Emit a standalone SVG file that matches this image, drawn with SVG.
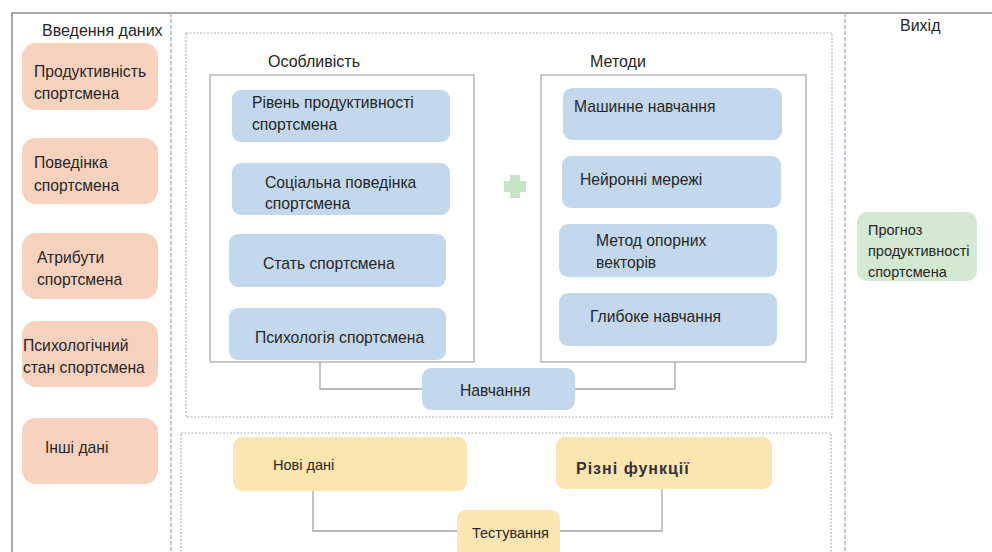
<svg xmlns="http://www.w3.org/2000/svg" width="992" height="552" viewBox="0 0 992 552">
  <defs>
    <style>
      text { font-family: "Liberation Sans", "Noto Sans", Arial, sans-serif; font-size: 15.7px; fill: #262626; }
      .head { font-size: 16px; }
      .small { font-size: 14.5px; }
      .wide { font-size: 16px; font-weight: bold; letter-spacing: 1px; fill: #333333; }
      .frame { fill: none; stroke: #8c8c8c; stroke-width: 1.5; }
      .divider { fill: none; stroke: #9fb0c4; stroke-width: 1.3; stroke-dasharray: 4 2; }
      .dashbox { fill: none; stroke: #a9b4c2; stroke-width: 1.2; stroke-dasharray: 2 1.5; }
      .panel { fill: #ffffff; stroke: #a6a6a6; stroke-width: 1.2; }
      .input { fill: #f7d3bf; }
      .feat { fill: #c3d8ec; }
      .test { fill: #fbe5b0; }
      .out { fill: #d3e9d1; }
      .link { fill: none; stroke: #a6a6a6; stroke-width: 1.3; }
    </style>
  </defs>

  <rect width="992" height="552" fill="#ffffff"/>

  <!-- outer frame and column dividers -->
  <g id="frame">
    <path class="frame" d="M12,552 V13 H992"/>
    <line class="divider" x1="171" y1="13" x2="171" y2="552"/>
    <line class="divider" x1="845" y1="13" x2="845" y2="552"/>
    <rect class="dashbox" x="186" y="33" width="646" height="384"/>
    <rect class="dashbox" x="181" y="433" width="650" height="125"/>
  </g>

  <!-- column headings -->
  <text class="head" x="42" y="36">Введення даних</text>
  <text class="head" x="268" y="67">Особливість</text>
  <text class="head" x="590" y="67">Методи</text>
  <text class="head" x="900" y="31" font-size="17">Вихід</text>

  <!-- connectors -->
  <g id="connectors">
    <path class="link" d="M320,362 V389 H422"/>
    <path class="link" d="M675,362 V389 H575"/>
    <path class="link" d="M313,491 V531 H457"/>
    <path class="link" d="M662,489 V531 H560"/>
  </g>

  <!-- input data -->
  <g id="in-productivity">
    <rect class="input" x="22" y="43" width="136" height="67" rx="14"/>
    <text x="34" y="77">Продуктивність</text>
    <text x="34" y="99">спортсмена</text>
  </g>
  <g id="in-behaviour">
    <rect class="input" x="22" y="138" width="136" height="66" rx="14"/>
    <text x="34" y="168">Поведінка</text>
    <text x="34" y="191">спортсмена</text>
  </g>
  <g id="in-attributes">
    <rect class="input" x="22" y="233" width="136" height="66" rx="14"/>
    <text x="37" y="263">Атрибути</text>
    <text x="37" y="285">спортсмена</text>
  </g>
  <g id="in-psychology">
    <rect class="input" x="22" y="321" width="136" height="66" rx="14"/>
    <text x="23" y="351">Психологічний</text>
    <text x="23" y="373">стан спортсмена</text>
  </g>
  <g id="in-other">
    <rect class="input" x="22" y="418" width="136" height="66" rx="14"/>
    <text x="45" y="453">Інші дані</text>
  </g>

  <!-- features panel -->
  <g id="features">
    <rect class="panel" x="210" y="75" width="264" height="287"/>
  </g>
  <g id="f-level">
    <rect class="feat" x="232" y="90" width="218" height="52" rx="9"/>
    <text x="252" y="108">Рівень продуктивності</text>
    <text x="252" y="130">спортсмена</text>
  </g>
  <g id="f-social">
    <rect class="feat" x="232" y="163" width="218" height="52" rx="9"/>
    <text x="265" y="188">Соціальна поведінка</text>
    <text x="265" y="209">спортсмена</text>
  </g>
  <g id="f-gender">
    <rect class="feat" x="229" y="234" width="217" height="53" rx="9"/>
    <text x="263" y="269">Стать спортсмена</text>
  </g>
  <g id="f-psych">
    <rect class="feat" x="229" y="308" width="217" height="52" rx="9"/>
    <text x="255" y="343">Психологія спортсмена</text>
  </g>

  <!-- plus sign between panels -->
  <g id="plus">
    <path fill="#c8e4c6" d="M510,175 h10 v6 h6 v11 h-6 v6 h-10 v-6 h-6 v-11 h6 z"/>
  </g>

  <!-- methods panel -->
  <g id="methods">
    <rect class="panel" x="541" y="75" width="265" height="287"/>
  </g>
  <g id="m-ml">
    <rect class="feat" x="563" y="88" width="219" height="52" rx="9"/>
    <text x="574" y="112">Машинне навчання</text>
  </g>
  <g id="m-nn">
    <rect class="feat" x="562" y="156" width="219" height="52" rx="9"/>
    <text x="580" y="185">Нейронні мережі</text>
  </g>
  <g id="m-svm">
    <rect class="feat" x="559" y="224" width="218" height="53" rx="9"/>
    <text x="596" y="246">Метод опорних</text>
    <text x="596" y="268">векторів</text>
  </g>
  <g id="m-dl">
    <rect class="feat" x="559" y="293" width="218" height="53" rx="9"/>
    <text x="590" y="322">Глибоке навчання</text>
  </g>

  <!-- training -->
  <g id="training">
    <rect class="feat" x="422" y="368" width="153" height="42" rx="9"/>
    <text x="460" y="396">Навчання</text>
  </g>

  <!-- testing -->
  <g id="new-data">
    <rect class="test" x="233" y="437" width="234" height="54" rx="9"/>
    <text x="273" y="470" class="small">Нові дані</text>
  </g>
  <g id="functions">
    <rect class="test" x="556" y="437" width="216" height="52" rx="9"/>
    <text x="576" y="474" class="wide">Різні функції</text>
  </g>
  <g id="testing">
    <rect class="test" x="457" y="510" width="103" height="48" rx="9"/>
    <text x="472" y="538" class="small">Тестування</text>
  </g>

  <!-- output -->
  <g id="forecast">
    <rect class="out" x="857" y="212" width="120" height="69" rx="10"/>
    <text x="868" y="235" class="small">Прогноз</text>
    <text x="868" y="256" class="small">продуктивності</text>
    <text x="868" y="277" class="small">спортсмена</text>
  </g>
</svg>
